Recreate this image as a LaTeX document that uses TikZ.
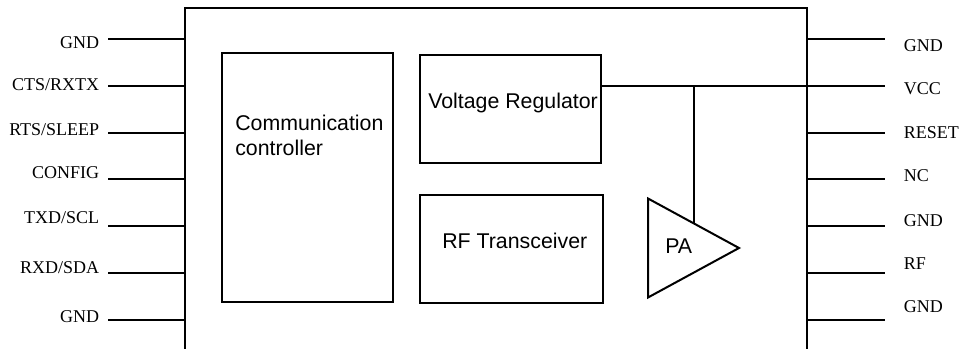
\documentclass[tikz,border=0pt]{standalone}
\usepackage{fontspec}
\setmainfont{Liberation Serif}
\setsansfont{Liberation Sans}
\usetikzlibrary{shapes.geometric}
\tikzset{
  wire/.style={line width=1.5pt},
  blockbox/.style={draw, line width=1.5pt, rectangle, inner sep=0pt, outer sep=0pt, anchor=north west},
  blocktext/.style={font=\sffamily\fontsize{16}{19}\selectfont, inner sep=0pt, anchor=base west},
  pintext/.style={font=\rmfamily\fontsize{13.5}{16}\selectfont, inner sep=0pt}
}
\begin{document}
\begin{tikzpicture}[x=0.75pt, y=-0.75pt]
\useasboundingbox (0,0) rectangle (961,349);

% module outline, runs off the bottom
\coordinate (mainBL) at (185,349);
\coordinate (mainTL) at (185,8);
\coordinate (mainTR) at (807,8);
\coordinate (mainBR) at (807,349);
\draw[wire, line join=miter] (mainBL) -- (mainTL) -- (mainTR) -- (mainBR);

% left pins
\foreach \i/\y/\ty/\name in {1/39/49/GND, 2/86/90.5/CTS\slash RXTX, 3/133/135.7/RTS\slash SLEEP, 4/179/179/CONFIG, 5/226/223.7/TXD\slash SCL, 6/273/273/RXD\slash SDA, 7/320/322.3/GND}{
  \node[pintext, anchor=base east] (ltext\i) at (99.5,\ty) {\name};
  \coordinate (lend\i) at (108,\y);
  \coordinate (lpin\i) at (185,\y);
  \draw[wire] (lend\i) -- (lpin\i);
}

% right pins
\foreach \i/\y/\ty/\name in {1/39/51.7/GND, 2/86/95/VCC, 3/133/138.3/RESET, 4/179/181.7/NC, 5/226/226.7/GND, 6/273/269.3/RF, 7/320/312.3/GND}{
  \node[pintext, anchor=base west] (rtext\i) at (903.5,\ty) {\name};
  \coordinate (rend\i) at (885,\y);
  \coordinate (rpin\i) at (807,\y);
  \draw[wire] (rpin\i) -- (rend\i);
}

% inner blocks
\node[blockbox, minimum width=128.25pt, minimum height=186.75pt] (comm) at (222,53) {};
\node[blockbox, minimum width=135.75pt, minimum height=81pt] (volt) at (420,55) {};
\node[blockbox, minimum width=137.25pt, minimum height=81pt] (rf) at (420,195) {};
\node[blocktext] (commtext) at (235,130.5) {Communication};
\node[blocktext] (commtext2) at (235,156) {controller};
\node[blocktext] (volttext) at (428,109) {Voltage Regulator};
\node[blocktext] (rftext) at (442,249) {RF Transceiver};

% amplifier
\node[draw, line width=1.5pt, isosceles triangle, isosceles triangle stretches, inner sep=0pt, outer sep=0pt,
  minimum width=74.25pt, minimum height=68.25pt, anchor=lower side] (pa) at (648,248) {};
\node[blocktext] (patext) at (665,253) {PA};

% supply rail
\coordinate (railstart) at (volt.east |- rpin2);
\coordinate (railtap) at (pa.left side |- rpin2);
\draw[wire] (railstart) -- (rpin2);
\draw[wire] (railtap) -- (pa.left side);
\end{tikzpicture}
\end{document}
